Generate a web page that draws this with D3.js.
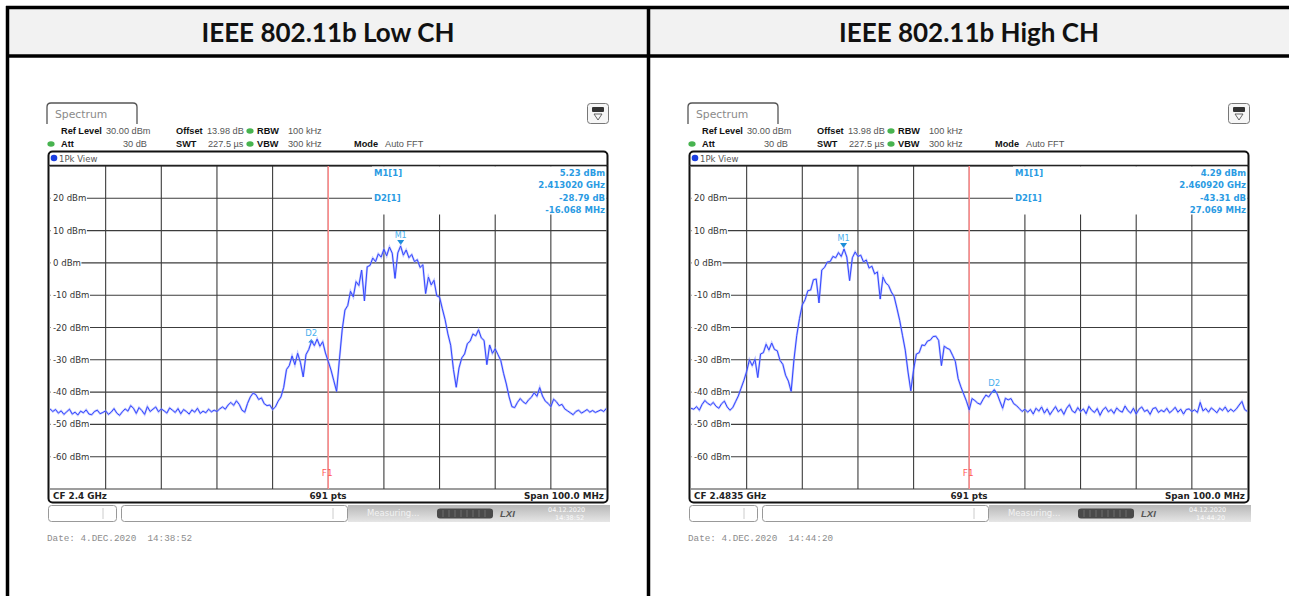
<!DOCTYPE html>
<html><head><meta charset="utf-8">
<script src="https://cdn.jsdelivr.net/npm/d3@7"></script>
<style>body{margin:0;background:#fff;} svg{display:block;}</style>
</head><body><svg id="c" width="1289" height="596"></svg>
<script>
// ---------------- data ----------------
const panelTitles = ["IEEE 802.11b Low CH", "IEEE 802.11b High CH"];
const centerFreqMHz = [2400, 2483.5];
const spanMHz = 100;
const stepMHz = 0.5;
const refLevel = 30, bottomLevel = -70;
const yTickLabels = [20, 10, 0, -10, -20, -30, -40, -50, -60];
const f1LineMHz = [2400, 2483.5];
const m1FreqMHz = [2413.020, 2460.920];
const m1LevelDbm = [5.23, 4.29];
const d2DeltaFreqMHz = [-16.068, 27.069];
const d2DeltaLevelDb = [-28.79, -43.31];
const cfLabels = ["CF 2.4 GHz", "CF 2.4835 GHz"];
const m1Texts = [["5.23 dBm", "2.413020 GHz"], ["4.29 dBm", "2.460920 GHz"]];
const d2Texts = [["-28.79 dB", "-16.068 MHz"], ["-43.31 dB", "27.069 MHz"]];
const dateTexts = ["Date: 4.DEC.2020  14:38:52", "Date: 4.DEC.2020  14:44:20"];
const timeTexts = ["14:38:52", "14:44:20"];

const lowLevels = [
 -45.2,-46.0,-45.4,-46.5,-45.8,-46.9,-46.1,-45.3,-46.8,-46.2,
 -47.1,-45.9,-46.4,-45.5,-46.8,-47.0,-46.0,-45.6,-46.7,-46.3,
 -45.8,-46.9,-46.2,-45.1,-46.5,-47.2,-46.1,-45.2,-45.9,-44.2,
 -45.0,-46.6,-44.8,-45.7,-46.9,-44.5,-46.0,-45.3,-44.6,-46.1,
 -45.2,-45.8,-46.5,-44.9,-45.6,-46.3,-45.1,-46.7,-45.4,-46.0,
 -46.8,-45.5,-46.2,-45.0,-46.6,-45.9,-46.4,-45.3,-46.1,-45.6,
 -46.0,-45.2,-44.6,-45.3,-44.0,-43.2,-44.1,-42.7,-43.8,-45.6,
 -46.2,-43.5,-41.5,-40.3,-40.8,-42.3,-41.8,-43.6,-44.2,-44.0,
 -45.4,-44.6,-42.8,-41.5,-38.5,-33.0,-31.8,-28.8,-31.5,-28.0,
 -30.8,-35.3,-28.4,-26.8,-24.2,-25.6,-23.6,-25.8,-24.4,-27.9,
 -30.5,-33.2,-36.5,-39.8,-30.0,-20.8,-14.6,-13.2,-8.8,-10.5,
 -5.8,-7.0,-2.2,-11.8,-1.2,-0.8,1.5,0.4,2.8,1.8,
 4.2,2.2,4.9,3.0,-4.8,3.1,5.2,2.4,4.0,1.6,
 2.6,0.4,1.0,-1.4,-0.6,-9.5,-4.4,-6.8,-5.4,-10.2,
 -10.6,-14.2,-17.6,-22.0,-25.5,-33.0,-38.5,-32.5,-29.4,-28.2,
 -25.0,-24.2,-22.0,-22.6,-20.7,-23.2,-24.0,-31.5,-25.4,-28.0,
 -26.6,-28.4,-30.2,-34.2,-37.5,-41.5,-44.5,-44.8,-43.2,-42.0,
 -43.0,-43.6,-42.4,-41.6,-40.2,-41.3,-38.6,-41.2,-42.8,-43.5,
 -44.5,-42.2,-43.0,-44.2,-43.8,-45.2,-45.8,-46.4,-47.0,-46.0,
 -45.6,-46.5,-46.0,-45.4,-46.2,-45.7,-46.3,-45.9,-45.5,-46.0,-45.0
];
const highLevels = [
 -45.0,-45.3,-44.5,-45.6,-43.8,-42.6,-43.5,-44.0,-43.2,-44.4,
 -45.0,-43.6,-42.8,-44.6,-45.6,-44.8,-43.0,-41.2,-38.8,-36.4,
 -33.6,-30.0,-31.8,-29.8,-35.5,-28.2,-27.8,-25.2,-27.0,-24.8,
 -26.8,-27.2,-30.2,-31.4,-34.8,-36.6,-39.8,-30.0,-22.5,-17.2,
 -13.0,-11.4,-8.6,-8.4,-5.2,-5.0,-12.4,-2.2,-1.4,0.3,
 0.4,2.0,1.6,3.2,2.0,4.3,1.8,-5.5,1.6,3.4,
 2.0,2.4,0.3,0.9,-1.6,-1.0,-3.4,-2.8,-11.2,-4.4,
 -6.2,-7.0,-9.0,-10.4,-14.0,-17.8,-22.4,-27.0,-33.8,-39.6,
 -33.0,-28.2,-27.8,-25.4,-25.6,-24.2,-23.9,-22.8,-22.7,-24.0,
 -31.8,-25.8,-26.4,-26.8,-28.6,-30.5,-35.8,-38.4,-40.6,-42.8,
 -45.5,-42.0,-42.6,-43.4,-43.8,-42.2,-40.9,-41.5,-40.2,-39.3,
 -40.5,-42.8,-45.0,-41.9,-42.4,-42.0,-43.6,-44.2,-45.1,-46.0,
 -45.3,-46.2,-45.4,-46.8,-45.0,-45.9,-44.6,-46.5,-45.2,-47.0,
 -45.7,-44.5,-46.1,-45.3,-46.9,-45.0,-43.9,-45.8,-46.4,-44.8,
 -46.0,-45.2,-46.7,-44.4,-45.6,-46.3,-45.1,-47.2,-45.5,-44.7,
 -46.1,-45.4,-46.6,-44.9,-45.8,-46.2,-44.3,-45.7,-46.5,-45.0,
 -46.8,-45.3,-44.6,-46.0,-45.5,-46.9,-45.1,-44.8,-46.3,-45.6,
 -46.1,-45.0,-46.4,-45.7,-44.7,-46.2,-45.3,-46.8,-45.4,-45.2,
 -46.0,-45.5,-46.3,-43.2,-45.8,-45.1,-46.2,-44.9,-45.6,-46.4,
 -45.0,-45.7,-44.6,-46.1,-45.3,-46.0,-45.2,-44.0,-42.9,-45.4,-46.0
];
const traces = [lowLevels, highLevels];

// ---------------- drawing ----------------
const svg = d3.select("#c");
const defs = svg.append("defs");
const grad = defs.append("linearGradient").attr("id", "barGrad").attr("x1", 0).attr("y1", 0).attr("x2", 0).attr("y2", 1);
grad.append("stop").attr("offset", "0%").attr("stop-color", "#b8b8b8");
grad.append("stop").attr("offset", "100%").attr("stop-color", "#e6e6e6");

// table
svg.append("rect").attr("x", 9).attr("y", 9).attr("width", 1280).attr("height", 46).attr("fill", "#f2f2f2");
const tableLines = [[6, 7.5, 1289, 7.5], [6, 56, 1289, 56], [7.5, 6, 7.5, 596], [648.5, 6, 648.5, 596]];
svg.selectAll("line.tbl").data(tableLines).join("line").attr("class", "tbl")
  .attr("x1", d => d[0]).attr("y1", d => d[1]).attr("x2", d => d[2]).attr("y2", d => d[3])
  .attr("stroke", "#000").attr("stroke-width", 3.5);

const SANS = "'Liberation Sans', Arial, sans-serif";
const DV = "'DejaVu Sans', sans-serif";

function drawPanel(p) {
  const dx = p * 641;
  svg.append("text").attr("x", 328 + dx).attr("y", 42).attr("text-anchor", "middle")
    .attr("font-family", "Lato, sans-serif").attr("font-weight", "bold").attr("font-size", 26)
    .attr("fill", "#111").text(panelTitles[p]);

  const g = svg.append("g").attr("transform", `translate(${dx},0)`);
  const cf = centerFreqMHz[p];
  const f0 = cf - spanMHz / 2;
  const x = d3.scaleLinear().domain([f0, f0 + spanMHz]).range([50, 606.5]);
  const y = d3.scaleLinear().domain([bottomLevel, refLevel]).range([489, 166]);
  const levels = traces[p];
  const freqs = levels.map((_, i) => f0 + i * stepMHz);

  // Spectrum tab
  g.append("path").attr("d", "M47,124 V107 Q47,103 51,103 H133 Q137,103 137,107 V124")
    .attr("fill", "#fff").attr("stroke", "#555").attr("stroke-width", 1.3);
  g.append("text").attr("x", 55).attr("y", 118).attr("font-family", DV).attr("font-size", 10.8)
    .attr("fill", "#8a8a8a").text("Spectrum");
  // icon top right
  g.append("rect").attr("x", 587.5).attr("y", 103.5).attr("width", 21).attr("height", 20).attr("rx", 3)
    .attr("fill", "#f6f6f6").attr("stroke", "#777");
  g.append("rect").attr("x", 592).attr("y", 107).attr("width", 12).attr("height", 5).attr("rx", 1).attr("fill", "#333");
  g.append("path").attr("d", "M594,114 H602 L598,120 Z").attr("fill", "none").attr("stroke", "#555").attr("stroke-width", 0.9);

  // settings rows
  const rows = [
    {t: "Ref Level", x: 61, y: 134, b: true}, {t: "30.00 dBm", x: 106, y: 134},
    {t: "Offset", x: 176, y: 134, b: true}, {t: "13.98 dB", x: 207, y: 134},
    {t: "RBW", x: 257, y: 134, b: true}, {t: "100 kHz", x: 288, y: 134},
    {t: "Att", x: 61, y: 147, b: true}, {t: "30 dB", x: 147, y: 147, e: true},
    {t: "SWT", x: 176, y: 147, b: true}, {t: "227.5 µs", x: 208, y: 147},
    {t: "VBW", x: 257, y: 147, b: true}, {t: "300 kHz", x: 288, y: 147},
    {t: "Mode", x: 354, y: 147, b: true}, {t: "Auto FFT", x: 385, y: 147}
  ];
  g.selectAll("text.set").data(rows).join("text").attr("class", "set")
    .attr("x", d => d.x).attr("y", d => d.y).attr("text-anchor", d => d.e ? "end" : "start")
    .attr("font-family", SANS).attr("font-size", 9.2).attr("font-weight", d => d.b ? "bold" : "normal")
    .attr("fill", d => d.b ? "#111" : "#555").text(d => d.t);
  [[250, 131], [51, 144], [250, 144]].forEach(c => {
    g.append("ellipse").attr("cx", c[0]).attr("cy", c[1]).attr("rx", 3.6).attr("ry", 2.8).attr("fill", "#47b34f");
  });

  // frame
  g.append("rect").attr("x", 48.5).attr("y", 151.5).attr("width", 559).attr("height", 351).attr("rx", 4)
    .attr("fill", "#fff").attr("stroke", "#111").attr("stroke-width", 2);
  g.append("circle").attr("cx", 54).attr("cy", 158).attr("r", 3.3).attr("fill", "#1a3ee0");
  g.append("text").attr("x", 59).attr("y", 161.5).attr("font-family", DV).attr("font-size", 8.5)
    .attr("fill", "#555").text("1Pk View");
  g.append("line").attr("x1", 48).attr("x2", 608).attr("y1", 165.5).attr("y2", 165.5)
    .attr("stroke", "#222").attr("stroke-width", 1.5);

  // grid
  const vDivs = d3.range(1, 10).map(k => f0 + k * spanMHz / 10);
  g.selectAll("line.vg").data(vDivs).join("line").attr("class", "vg")
    .attr("x1", d => x(d)).attr("x2", d => x(d)).attr("y1", 166).attr("y2", 489)
    .attr("stroke", "#3c3c3c").attr("stroke-width", 1.1);
  const hDivs = y.ticks(10);
  g.selectAll("line.hg").data(hDivs).join("line").attr("class", "hg")
    .attr("x1", 50).attr("x2", 606.5).attr("y1", d => y(d)).attr("y2", d => y(d))
    .attr("stroke", d => d === refLevel ? "#222" : "#3c3c3c").attr("stroke-width", 1.1);

  // marker info box (covers grid)
  g.append("rect").attr("x", 372).attr("y", 166.5).attr("width", 234).attr("height", 48).attr("fill", "#fff");

  // y labels with white background
  const yl = g.selectAll("g.yl").data(yTickLabels).join("g").attr("class", "yl");
  yl.each(function (d) {
    const gg = d3.select(this);
    const bg = gg.append("rect").attr("fill", "#fff");
    const t = gg.append("text").attr("x", 53).attr("y", y(d) + 3).attr("font-family", DV)
      .attr("font-size", 8.6).attr("fill", "#333").text(`${d} dBm`);
    const w = t.node().getComputedTextLength();
    bg.attr("x", 50.5).attr("y", y(d) - 2).attr("width", w + 3).attr("height", 4);
  });

  // F1 line
  g.append("line").attr("x1", x(f1LineMHz[p])).attr("x2", x(f1LineMHz[p])).attr("y1", 166).attr("y2", 489)
    .attr("stroke", "#ff8c8c").attr("stroke-width", 1.5);
  g.append("text").attr("x", x(f1LineMHz[p]) - 1).attr("y", 476).attr("text-anchor", "middle")
    .attr("font-family", DV).attr("font-size", 9).attr("fill", "#ff5a5a").text("F1");

  // trace
  const clipId = `clip${p}`;
  defs.append("clipPath").attr("id", clipId).append("rect").attr("x", 50 + dx).attr("y", 166)
    .attr("width", 556.5).attr("height", 323);
  const line = d3.line().x((d, i) => x(freqs[i])).y(d => y(d));
  const tg = svg.append("g").attr("clip-path", `url(#${clipId})`).append("g").attr("transform", `translate(${dx},0)`);
  tg.append("path").attr("d", line(levels)).attr("fill", "none").attr("stroke", "#8f9bff")
    .attr("stroke-width", 2.2).attr("opacity", 0.55);
  tg.append("path").attr("d", line(levels)).attr("fill", "none").attr("stroke", "#3346ff")
    .attr("stroke-width", 1);

  // markers
  const mc = "#2a9be3";
  const mx = x(m1FreqMHz[p]), my = y(m1LevelDbm[p]);
  g.append("path").attr("d", `M${mx - 3.5},${my - 6} H${mx + 3.5} L${mx},${my - 1} Z`).attr("fill", "#1d8ed8");
  g.append("text").attr("x", mx).attr("y", my - 8).attr("text-anchor", "middle").attr("font-family", DV)
    .attr("font-size", 8).attr("fill", "#4ab0ee").text("M1");
  const d2x = x(m1FreqMHz[p] + d2DeltaFreqMHz[p]), d2y = y(m1LevelDbm[p] + d2DeltaLevelDb[p]);
  g.append("path").attr("d", `M${d2x - 3},${d2y + 3.5} H${d2x + 3} L${d2x},${d2y} Z`).attr("fill", "#1d8ed8");
  g.append("text").attr("x", d2x).attr("y", d2y - 2.5).attr("text-anchor", "middle").attr("font-family", DV)
    .attr("font-size", 8.5).attr("fill", "#4ab0ee").text("D2");

  // marker info text
  const info = [
    {t: "M1[1]", x: 374, y: 176, a: "start"}, {t: m1Texts[p][0], x: 605, y: 176, a: "end"},
    {t: m1Texts[p][1], x: 605, y: 188, a: "end"},
    {t: "D2[1]", x: 374, y: 200.5, a: "start"}, {t: d2Texts[p][0], x: 605, y: 200.5, a: "end"},
    {t: d2Texts[p][1], x: 605, y: 213, a: "end"}
  ];
  g.selectAll("text.info").data(info).join("text").attr("class", "info")
    .attr("x", d => d.x).attr("y", d => d.y).attr("text-anchor", d => d.a)
    .attr("font-family", DV).attr("font-weight", "bold").attr("font-size", 8.5)
    .attr("fill", mc).text(d => d.t);

  // bottom row
  const bottom = [{t: cfLabels[p], x: 53, a: "start"}, {t: "691 pts", x: 328, a: "middle"},
    {t: "Span 100.0 MHz", x: 604, a: "end"}];
  g.selectAll("text.bot").data(bottom).join("text").attr("class", "bot")
    .attr("x", d => d.x).attr("y", 499).attr("text-anchor", d => d.a)
    .attr("font-family", DV).attr("font-weight", "bold").attr("font-size", 8.8).attr("fill", "#222").text(d => d.t);

  // status bar
  g.append("rect").attr("x", 348).attr("y", 505).attr("width", 262).attr("height", 17).attr("fill", "url(#barGrad)");
  g.append("rect").attr("x", 48.5).attr("y", 505.5).attr("width", 68).attr("height", 16).attr("rx", 3)
    .attr("fill", "#fff").attr("stroke", "#999");
  g.append("line").attr("x1", 103).attr("x2", 103).attr("y1", 508).attr("y2", 519).attr("stroke", "#ccc");
  g.append("rect").attr("x", 121.5).attr("y", 505.5).attr("width", 226).attr("height", 16).attr("rx", 3)
    .attr("fill", "#fff").attr("stroke", "#999");
  g.append("line").attr("x1", 333).attr("x2", 333).attr("y1", 508).attr("y2", 519).attr("stroke", "#ccc");
  g.append("text").attr("x", 367).attr("y", 516).attr("font-family", DV).attr("font-size", 8.5)
    .attr("fill", "#f2f2f2").text("Measuring...");
  g.append("rect").attr("x", 437).attr("y", 508.5).attr("width", 56).attr("height", 10).attr("rx", 3).attr("fill", "#4a4a4a");
  d3.range(8).forEach(k => {
    g.append("line").attr("x1", 443 + k * 6).attr("x2", 443 + k * 6).attr("y1", 510).attr("y2", 517)
      .attr("stroke", "#777").attr("stroke-width", 0.8);
  });
  g.append("text").attr("x", 500).attr("y", 517).attr("font-family", SANS).attr("font-style", "italic")
    .attr("font-weight", "bold").attr("font-size", 9.5).attr("fill", "#555").text("LXI");
  g.append("text").attr("x", 548).attr("y", 512).attr("font-family", DV).attr("font-size", 6.5)
    .attr("fill", "#fafafa").text("04.12.2020");
  g.append("text").attr("x", 555).attr("y", 520).attr("font-family", DV).attr("font-size", 6.5)
    .attr("fill", "#fafafa").text(timeTexts[p]);

  // date line
  g.append("text").attr("x", 47).attr("y", 541).attr("font-family", "'Liberation Mono', monospace")
    .attr("font-size", 9.3).attr("fill", "#8c8c8c").attr("xml:space", "preserve").style("white-space", "pre")
    .text(dateTexts[p]);
}
drawPanel(0);
drawPanel(1);
</script></body></html>
